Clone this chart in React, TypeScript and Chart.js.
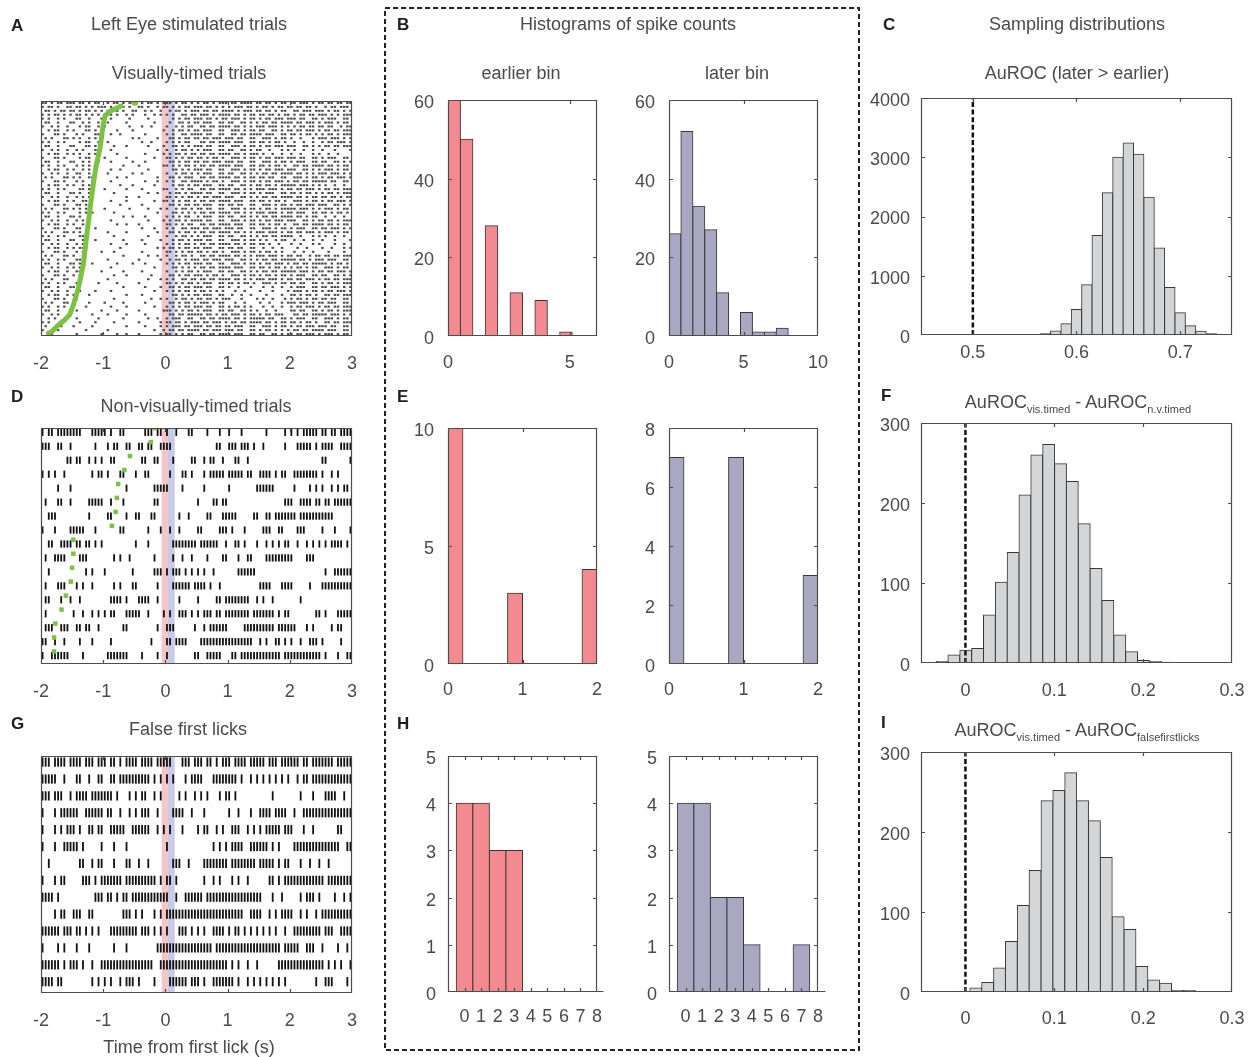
import React, { useEffect, useRef } from 'react';
import { Chart, registerables } from 'chart.js';

Chart.register(...registerables);

const FONT = '"Liberation Sans", Arial, Helvetica, sans-serif';
const INK = '#4a4a4a';
const RED = '#f38a90';
const LAV = '#a9a7c1';
const GRAY = '#d4d5d7';
const EDGE = '#383838';
const GREEN = '#7cc242';
const BAND_RED = '#f7c4c9';
const BAND_BLUE = '#c8cae6';
const FS = 18;

Chart.defaults.font.family = FONT;

// ---------------- raster data ----------------
const rasterTimeStart = -2;
const rasterBinWidth = 0.05;
const rasterTicks = [-2, -1, 0, 1, 2, 3];
const earlierWindow = [-0.06, 0.04];
const laterWindow = [0.04, 0.15];

// Panel A: 60 trial rows, 100 bins of 50 ms ('|' = spike)
const rasterA = [
  '||.|.||.|| |.||.|.||. .|.||.|.|| |.|.||.|.| ||.|.||.|. |.||.|.||| .||.||||.| |.||.|.||. ||.|||.|.| |.||.||.||',
  '|.||.|..|| .||.|.|.|| |.|..||.|. .||.|..|.| |.|.|.||.| ||.||.|.|. |.|||.||.| .||.|.||.| |.||.||.|. .|.||.|||.',
  '.||.|.||.| |.|.||.|.| .|.||.|..| |..|.|..|. .|.||.|.|| |.||.||.|| ||.|.|||.| |.||.|.||. .||.|||.|| |.|.||.|.|',
  '|.|.||.|.| .||.|.|.|. |.|.|..|.| ...|..|.|. |.|..||.|| .|||.|.||| |.||.|.||. ||.||.|.|| .|.||.||.| ||.|.|.|||',
  '|.|..|.|.. .||..|...| ..|.....|. ....|..... ..|.|.||.| ||.||.|.|| .|||.|.||. |.||.|||.| ||.||..||. |.|||..||.',
  '.||..|...| |..|.|..|. .|.....|.. ......|... .|..||.|.| |.|||..||. ||..||.|.| .||.||.||| |.||.|||.| .|||.|.||.',
  '|..|.|..|. ..|.||..|. |.......|. ..|..|.... |..|.|.||. .||.||.||| |.||.|.|.| ||.|||.|.| .|.||.||.| |.||..|.||',
  '..|.||..|. |...||.|.. ....|....| .........| ..|.||.|.| |.|||..||. .|||.|.||. ||..||.|.| |.||.|||.| .||.||.|||',
  '|...||.|.. .|.|...||. ..|..|.... ...|...... |.|..||.|| ||.||..||. .||.||.||| |.|||..||. ||.|.||.|. |.||.|.|||',
  '.|.|...||. |.|..|.|.. .........| .|.....|.. .||.|.||.| |.||.|||.| ||.||..||. .|||.|.||. |..|...|.| ||.|||.|.|',
  '|.|..|.|.. ..|.||..|. .|........ ..|..|.... |.|.|.||.. .||.||.||| |.|||..||. ||.|.||.|. .|..|..|.. |.||.|||.|',
  '.||..|...| |...||.|.. ...|...|.. ....|....| ..||.|.|.| ||.||..||. .|||.|.||. |.||.|||.| ||..||.|.| .||.||.|||',
  '|..|.|..|. .|.|...||. ..|....... .......|.. |..|.||.|. |.|||..||. ||..||.|.| |..|...|.| .|..|..|.. |...|....|',
  '..|.||..|. |.|..|.|.. ....|..... ...|.....| .|.||.|.|| .||.||.||| |.||.|.||| .|..|..|.. |..|...|.| ..|..|....',
  '|...||.|.. ..|.||..|. |......|.. ......|... ||.|.|.||. ||.|.||.|. .|||.|.||. |.||.|||.| ||.||..||. |.|||..||.',
  '.||..|...| |..|.|..|. ..|......| ...|...... .||.|.||.| |.||.|||.| ||.||..||. .|||.|.||. |.|||..||. ||..||.|.|',
  '|.|..|.|.. .|.|.|.... ......|... .|.......| |.|.|.||.| .||.||.||| |.|||..||. ||.|.||.|. .||.||.||| |.||.|.||.',
  '..|.||..|. |..|.|.... ..|..|.... ....|..... ..||.|.|.| ||.||..||. .|||.|.||. |.||.|||.| ||..||.|.| .|||.|.||.',
  '|..|.|..|. .||..|.... .|.......| ..|....... |..|.||.|. |.|||..||. ||..||.|.| .||.||.||| |.||.|.|.| ||.|||.|.|',
  '.|.|...||. |.|..||... ....|..|.. .......|.. .||.|.|||. .||.||.||| |.||.|.||. ||.||..||. .|||.|.||. |.||.|||.|',
  '|...||.|.. .|.|..|... ..|....... ...|...|.. |.|..||.|| ||.|.||.|. .|||.|.||. |.||.|||.| .||.||.||| ||.||..||.',
  '..|.||..|. |..|.|.... .....|...| ......|... ..|.||.|.| |.|||..||. ||..||.|.| |.||.|.||| ||.|||.|.| .|..|..|..',
  '|.|..|.|.. ..||.|.... |......|.. ..|......| |..|.|.||. .||.||.||| |.||.|.|.| ||.|||.|.| |.||.|||.| .||.||.|||',
  '.||..|...| |.|..|.... ...|...... ....|..|.. .|.||.|.|| ||.||..||. .|||.|.||. |.|||..||. ||.|.||.|. |.||.|.|||',
  '|..|.|..|. .|.|.|.... .......|.. .|........ ||.|.|.||. |.||.|||.| ||..||.|.| .||.||.||| |.||.|.||. ||.||.|.||',
  '..|.||..|. |..||..... ..|....|.. ......|..| |.|.|.||.| .||.||.||| |.|||..||. ||.|.||.|. .|||.|.||. |.||.|||.|',
  '|...||.|.. .||.|..... .....|.... ..|....... .||.|.||.| |.|||..||. ||.||..||. .|||.|.||. |.||.|||.| ||..||.|.|',
  '.|.|...||. |.|.|..... |.......|. ....|...|. |..|.||.|. ||.||..||. .|||.|.||. |.||.|.||| ||.|||.|.| .|||.|.||.',
  '|.|..|.|.. ..|.|.|... ...|...... .......|.. ..||.|.|.| .||.||.||| |.||.|.|.| ||.|||.|.| |.|||..||. ||.|.||.|.',
  '.||..|...| |.|..|.... ......|..| ...|...... |.|.|.||.. |.|||..||. ||..||.|.| .||.||.||| |.||.|.||. .|..|..|..',
  '|..|.|..|. .|.|...... ..|....... ....|....| .|.||.|.|| ||.||..||. .|||.|.||. |.||.|||.| ||..||.|.| |.||.|.|||',
  '..|.||..|. |..|...... ....|..|.. .|........ ||.|.|.||. .||.||.||| |.|||..||. ||.|.||.|. .||.||.||| |.||.|.||.',
  '|...||.|.. .||....|.. .......... ..|...|... |.|..||.|| |.||.|||.| ||.||..||. .|||.|.||. |.|||..||. ||.|||.|.|',
  '.|.|...||. |.|.|..... .|.....|.. .......|.. .||.|.||.| .||.||.||| |.||.|.|.| ||.|||.|.| |.||.|||.| .|||.|.||.',
  '|.|..|.|.. ..||...... ...|...... ....|..... |..|.||.|. |.|||..||. ||..||.|.| .||.||.||| |..|...|.| .|..|..|..',
  '.||..|...| |..|...|.. ......|... ..|.....|. ..|.||.|.| ||.||..||. .|||.|.||. |.|..|.||. .|..|..|.. |...|....|',
  '|..|.|..|. .|.|...... ..|....|.. ...|...... |.|.|.||.| .||.||.||| |.||.|.||. ||.|..|... |..|...|.| ....|..|..',
  '..|.||..|. |.||...... .....|.... .......|.| .||.|.||.| |.|||..||. ||.||..||. .|..|..|.. ..|..|.... |..|...|.|',
  '|...||.|.. .|.|.....| ...|...... ..|....... ||.|.|.||. ||.|.||.|. .|||.|.||. |.||.|.|.. .|..|..|.. ..|....|..',
  '.|.|...||. |..|...... ......|... ....|..|.. |..|.||.|. .||.||.||| |.||.|.|.| ||.|||.|.| |.||..|.|| .||.||.|||',
  '|.|..|.|.. .||....... .|........ .|......|. .|.||.|.|| |.||.|||.| ||..||.|.| .||.||.||| ||.||.|.|| |.|||..||.',
  '.||..|...| |.|...|... ....|....| ...|...... |.|.|.||.| ||.||..||. .|||.|.||. |.||.|||.| .||.||.||| ||.|.||.|.',
  '|..|.|..|. |.|....... ..|....... ......|... ..||.|.|.| .||.||.||| |.|||..||. ||.|.||.|. |.||.|.||. .|||.|.||.',
  '..|.||..|. .||......| ......|... ..|....... |..|.|.||. |.|||..||. ||..||.|.| .||.||.||| ||.|||.|.| |.||.|||.|',
  '|...||.|.. |.|....... ...|...|.. .....|.... .||.|.||.| ||.|.||.|. .|||.|.||. |.||.|.||. |.|||..||. ||..||.|.|',
  '.|.|...||. ..|....... .|........ ....|...|. |.|..||.|| .||.||.||| |.||.|.|.| ||.|||.|.| |.||.|||.| .||.||.|||',
  '|.|..|.|.. .|......|. ....|..... .|........ ||.|.|.||. |.|||..||. ||.|.||.|. .|||.|.||. ||.||..||. |.||.|.|||',
  '.||..|...| |......... ......|... ...|....|. .||.|.||.| ||.||..||. |..|...|.. .|..|..|.. |.|||..||. ||.|||.|.|',
  '|..|.|..|. ..|....|.. ..|....... ......|... |.|.|.||.| .||.|.|.|. ..|..|.... |...|....| .|||.|.||. |.||.|||.|',
  '..|.||..|. |....|.... .......|.. ..|....... ..||.|.|.| |.|||..||. .|..|..|.. ..|....|.. ||.|.||.|. .||.||.|||',
  '|...||.|.. .|........ ...|...... .....|..|. |..|.||.|. ||.||.|.|| |...|....| .|..|...|. |.||.|.||. ||.||..||.',
  '.|.|...||. .....|.... |.....|... ...|...... .||.|.||.| .|||.|.||. ..|..|.... |..|...|.| ||.|||.|.| |.|||..||.',
  '|.|..|.|.. ....|..... ..|....|.. ......|... |.|.|.||.| ||.||..||. |.||.|.|.. .|..|..|.. |.||.|||.| .||.||.|||',
  '.||..|.... .|.......| ....|..... .|.......| ||.|.|.||. |.|||..||. ||..||.|.| ..|..|.... ||.||..||. |.||.|.|||',
  '|..|.|.... ......|... .|.....|.. ...|...... .||.||.||| ||.||.|.|| .|||.|.||. |.||.|||.. .||.||.||| ||.|||.|.|',
  '..|.|..... .|......|. ......|... ....|..|.. |.|||..||. .||.||.||| |.||.|.||| ||.||..||. |.|||..||. .|||.|.||.',
  '|.|....... ..|....|.. ...|...... .|......|. ||.||.|.|| |.||.|||.| .||.||.||| |.||.|.||. ||.|.||.|. .||.||.|||',
  '.|....|... |.....|... .......|.. ...|....|. |.|||.||.| ||.||.||.| |.|||..||. .|||.|.||. |.||.|||.| ||.||..||.',
  '|....|.... ....|..... .|........ ......|..| .||.||.||| |.||.|||.| ||.||..||. |.||.|.|.| .||.||.||| |.|||..||.',
  '...|...... .|.......| ....|..|.. .|......|. ||.|.|.||. .||.||.||| |.|||..||. ||..||.|.| |.||.|||.| .|||.|.||.',
];
// green curve in panel A (time of cue, trial row)
const greenATimes = [-0.71, -0.89, -0.97, -1.0, -1.05, -1.11, -1.16, -1.21, -1.27, -1.32, -1.4, -1.48, -1.54, -1.62, -1.72, -1.83, -1.88];
const greenARows = [1.3, 2.6, 3.8, 6.0, 12.0, 16.2, 21.3, 27.3, 35.0, 41.8, 47.8, 52.1, 54.6, 55.9, 57.2, 58.9, 59.3];
const greenATopTime = -0.49;
const greenATopRow = 0.3;

// Panel D: 17 trials
const rasterD = [
  '|.||.||||| |||...|||| |.|..||... ...|||.||. |..|...||. ...|...|.. |...|..... ..|.....|. |.|.|||||. ||.||.||||',
  '|||..||..| .......|.. .|.||..||. .||.||..|| ||........ ......||.. |||.|||.|. .|......|. ..|||||.|. ||||..||||',
  '........|| .||..|.|.| ..||...... ..||..||.. ..|.....|| ..|.||..|. ..||..|... .......... .......... ||.......|',
  '|.|.|..|.. ......|.|| .|...||... |..||..... .|...||.|. ..|.|||||. |||||.||.. ||||.|.||. .||||||||. |..|.|....',
  '.....|...| .......... .......|.. ......|||| |....|.... ..|....... |........| |||||..... .|....|.|. |..|.|.||.',
  '.|...||..| .....||||| ..|...|... ......||.. .......... |....||.|| .......... ........|| |..||||.|| .||.||||||',
  '..|||..... .....|.... .||....|.. ||...||... ....|..|.. ...||...|| |||.....|| ..||.||||| ||.||||||| ||||......',
  '|...|....| ||||...|.. .....||... ....|...|. .|..|..... ||.....||| .|...|.... .|||..||.. ..|||..... |...|....|',
  '..||..|||| .||.||.|.| .......... |...|..... ..|||||||| .||||||..| ..||.|...| ..|.|.|.|| ..|..|.|.| .|.||||.|.',
  '.|..||||.. ..|||..... ...|.|..|. ......|... ..|..|..|. ...|....|| ...|..||.. ..|||||||| |....|||.. ..........',
  '..|....... ....|.|... |........| ......|||. |.|||.|.|. |.|..|.... ...||||||. .......... .......... .|..||||||',
  '.|...|||.. .|.|..|... ...|.|...| |......|.. ..||||||.| |||.|..|.. .......... ||||...||| |.....|... ||||||||||',
  '.||...|..| ..|....... ..||||.|.. .||||..|.. ....|..... |.....||.| |||||||..| .|..|..... ...|...... ..........',
  '.|........ |..|..|.|. |.||...||| ||..|....| .|..|||.|. |.|||.||.| |||||||.|| |||||.|.|| ........|| .|...|||||',
  '.|||..|||. .||.||..|. ......||.. .......|.. |||......| ..|.|||||| .....||||| |||||.|||| ||...|.|.. ...|.||...',
  '||..|..|.. ..|...|... ..|....... .....|.... ||.||||... .||||||||| ||||||||.. |.|..||.|. |..|..|||. |.....|...',
  '|..||||||. ...|...... .|||||||.. ..|....|.. |........| |..|||||.. .||.|||||| |||||||.|| |||||||||| .|...|..||',
];
const greenD = [-0.17, -0.235, -0.57, -0.66, -0.76, -0.78, -0.8, -0.86, -1.48, -1.48, -1.5, -1.52, -1.6, -1.67, -1.77, -1.79, -1.79];

// Panel G: 14 trials
const rasterG = [
  '|||.||||.| |||.|||.|| |.||.|.||| |.||||.||| ||...|||.| ||.||.|.|| |.||||.||| ||.|||.||| |||.||.||| ||||.|||||',
  '|||||..|.. .||..|..|| ..||.||||| |||||.|.|. |.|...|.|| ||...||||| |||.|..|.| .|.|.|.|.| ..|.||.||| ||||||||||',
  '|||.|||..| .||||.|||| |||.|...|. |.||..|.|. ....|.|..| .|.|...|.| |.|....... ....|..... ...|...|.. .||||..|..',
  '|...|.|||| ||..|||||| .||..|..|. |.|||..|.. ..||||..|. ..|....... |..|...|.. ||||.||||. .|..|||||| ||||||||||',
  '|...|.|.|| |.|..||.|| ..|||||..| |||||..|.| .|...|.... |.||..|.|. .|||..|.|. |.|||||.|| |...|..|.. .....||...',
  '|...|..||| ||.|.....| ...|...|.. .......... |......... .....|.|.| .||||..||| |||.|.|... .||||||||| ||||||..||',
  '..|....... ..||..|.|| ...|...||. .|..|..... ..|||..|.. ..|||||||| .||||||||. |||||.|.|| ...|..|..| ..|.......',
  '|...|.||.. ...|||.|.| ||||||.||| |||||||.|. ||.|...... ..|..|.|.. .|.|..|... ...||.|.|| |||||||||| |.||||||||',
  '||||.|.... .......||| .||.|.||.| |||||||||| |..|..|||| ||.||||||| |||||||||| |...|..|.. ...|.|||.| ....|..|.|',
  '....|.||.. |||..||... ......|||. |.|...|.|. |||||||||| |||||||||| |||||..||| |..|.|.||| |..|.|..|. ||||||||||',
  '||||||.||| .||.|.|.|. ..|||||||| |.|||.|.|. |...|||.|. |.|..||||. |.||.|.|.| .|.|.|..|. .||||||||| .|||..||||',
  '|....|.|.. .|...|.... ...|...|.. .......||| |||||||||| |||||.|||| |||||||||| |||||||.|| |||..|||.. |....|..|.',
  '||||||.|.| ||.|..|..| |||||||||| ||||||..|| |||||||||| |||||||||| .|.|..|..| ......|||| |||||||||| |.|.|.|..|',
  '||||.||... ......|.|. |.|..|.||| .|....|... .||||||.|| |.|..||||| ||.|..|.|. |.|.|.|.|. ........|. .|||....|.',
];

// ---------------- histogram data ----------------
const bEarlyCenters = [0.255, 0.765, 1.275, 1.785, 2.295, 2.805, 3.315, 3.825, 4.335, 4.845];
const bEarlyCounts = [60, 50, 0, 28, 0, 11, 0, 9, 0, 1];
const bLateCenters = [0.4, 1.2, 2.0, 2.8, 3.6, 4.4, 5.2, 6.0, 6.8, 7.6];
const bLateCounts = [26, 52, 33, 27, 11, 0, 6, 1, 1, 2];

const eCenters = [0.1, 0.3, 0.5, 0.7, 0.9, 1.1, 1.3, 1.5, 1.7, 1.9];
const eEarlyCounts = [10, 0, 0, 0, 3, 0, 0, 0, 0, 4];
const eLateCounts = [7, 0, 0, 0, 7, 0, 0, 0, 0, 3];

const hCenters = [0, 1, 2, 3, 4, 5, 6, 7, 8];
const hEarlyCounts = [4, 4, 3, 3, 0, 0, 0, 0, 0];
const hLateCounts = [4, 4, 2, 2, 1, 0, 0, 1, 0];

const cCenters = [0.55, 0.56, 0.57, 0.58, 0.59, 0.6, 0.61, 0.62, 0.63, 0.64, 0.65, 0.66, 0.67, 0.68, 0.69, 0.7, 0.71, 0.72, 0.73, 0.74];
const cCounts = [3, 5, 20, 67, 190, 430, 850, 1680, 2400, 3000, 3240, 3050, 2325, 1470, 800, 375, 155, 65, 20, 5];
const cChance = 0.5;

const fCenters = [-0.0263, -0.013, 0.0004, 0.0137, 0.027, 0.0404, 0.0537, 0.067, 0.0803, 0.0937, 0.107, 0.1203, 0.1337, 0.147, 0.1603, 0.1737, 0.187, 0.2003, 0.2137, 0.227];
const fCounts = [2, 10, 16, 18, 60, 101, 138, 210, 260, 273, 249, 227, 174, 118, 78, 35, 14, 3, 2, 1];
const iCenters = [-0.0017, 0.0117, 0.025, 0.0384, 0.0517, 0.0651, 0.0784, 0.0918, 0.1051, 0.1185, 0.1318, 0.1452, 0.1585, 0.1719, 0.1852, 0.1986, 0.2119, 0.2253, 0.2386, 0.252];
const iCounts = [1, 5, 12, 30, 63, 108, 152, 239, 252, 274, 239, 214, 168, 94, 78, 32, 15, 11, 2, 2];
const diffChance = 0;

// ---------------- helpers ----------------
const fmt = (v: number) => String(Math.round(v * 1000) / 1000);

const framePlugin = {
  id: 'frame',
  beforeDatasetsDraw(chart: any, _a: any, opts: any) {
    const { ctx, chartArea: ca } = chart;
    const xs = chart.scales.x;
    (opts.bands || []).forEach((b: any) => {
      const x0 = xs.getPixelForValue(b.from);
      const x1 = xs.getPixelForValue(b.to);
      ctx.save();
      ctx.fillStyle = b.color;
      ctx.fillRect(x0, ca.top, x1 - x0, ca.bottom - ca.top);
      ctx.restore();
    });
  },
  afterDatasetsDraw(chart: any, _a: any, opts: any) {
    const { ctx, chartArea: ca } = chart;
    const L = Math.round(ca.left) + 0.5;
    const R = Math.round(ca.right) - 0.5;
    const T = Math.round(ca.top) + 0.5;
    const B = Math.round(ca.bottom) - 0.5;
    ctx.save();
    ctx.strokeStyle = '#4d4d4d';
    ctx.lineWidth = 1.2;
    ctx.beginPath();
    ctx.rect(L, T, R - L, B - T);
    ctx.stroke();
    const tl = 3.5;
    ctx.beginPath();
    const xs = chart.scales.x;
    xs.ticks.forEach((t: any) => {
      const p = Math.round(xs.getPixelForValue(t.value)) + 0.5;
      if (p <= L + 1 || p >= R - 1) return;
      ctx.moveTo(p, B);
      ctx.lineTo(p, B - tl);
      ctx.moveTo(p, T);
      ctx.lineTo(p, T + tl);
    });
    if (opts.yTicks !== false) {
      const ys = chart.scales.y;
      ys.ticks.forEach((t: any) => {
        const p = Math.round(ys.getPixelForValue(t.value)) + 0.5;
        if (p <= T + 1 || p >= B - 1) return;
        ctx.moveTo(L, p);
        ctx.lineTo(L + tl, p);
        ctx.moveTo(R, p);
        ctx.lineTo(R - tl, p);
      });
    }
    ctx.stroke();
    if (opts.extendBase) {
      ctx.beginPath();
      ctx.moveTo(L, B);
      ctx.lineTo(R + opts.extendBase, B);
      ctx.stroke();
    }
    ctx.restore();
  },
};

type Pad = { l: number; t: number; r: number; b: number };
type Box = { l: number; t: number; w: number; h: number };

const PAD_HIST: Pad = { l: 62, t: 34, r: 36, b: 48 };
const PAD_RASTER: Pad = { l: 36, t: 34, r: 36, b: 48 };

function xAxis(min: number, max: number, ticks: number[], height: number, pad: number) {
  return {
    type: 'linear',
    position: 'bottom',
    min,
    max,
    offset: false,
    grid: { display: false, drawTicks: false },
    border: { display: false },
    ticks: {
      padding: pad,
      color: INK,
      font: { family: FONT, size: FS },
      maxRotation: 0,
      minRotation: 0,
      autoSkip: false,
      callback: (v: any) => fmt(Number(v)),
    },
    afterBuildTicks: (s: any) => {
      s.ticks = ticks.map((value) => ({ value }));
    },
    afterFit: (s: any) => {
      s.height = height;
    },
  };
}

function yAxis(max: number, ticks: number[], width: number, pad: number) {
  return {
    type: 'linear',
    position: 'left',
    min: 0,
    max,
    grid: { display: false, drawTicks: false },
    border: { display: false },
    ticks: {
      padding: pad,
      labelOffset: 3,
      color: INK,
      font: { family: FONT, size: FS },
      autoSkip: false,
      callback: (v: any) => fmt(Number(v)),
    },
    afterBuildTicks: (s: any) => {
      s.ticks = ticks.map((value) => ({ value }));
    },
    afterFit: (s: any) => {
      s.width = width;
    },
  };
}

function commonOptions(pad: Pad, leftPad: number, frame: any) {
  return {
    responsive: false,
    maintainAspectRatio: false,
    animation: false,
    devicePixelRatio: 1,
    events: [],
    layout: { padding: { left: leftPad, top: pad.t, right: pad.r, bottom: 0 } },
    plugins: { legend: { display: false }, tooltip: { enabled: false }, frame },
  };
}

type HistSpec = {
  centers: number[];
  counts: number[];
  color: string;
  xMin: number;
  xMax: number;
  xTicks: number[];
  yMax: number;
  yTicks: number[];
  xPad: number;
  yPad: number;
  chance?: number;
  extendBase?: number;
};

function histogram(p: HistSpec) {
  return (pad: Pad) => {
    const datasets: any[] = [];
    if (p.chance !== undefined) {
      datasets.push({
        type: 'line',
        data: [
          { x: p.chance, y: 0 },
          { x: p.chance, y: p.yMax },
        ],
        borderColor: '#111',
        borderWidth: 2.5,
        borderDash: [5, 2.6],
        pointRadius: 0,
        order: 0,
      });
    }
    datasets.push({
      type: 'bar',
      data: p.centers.map((x, i) => ({ x, y: p.counts[i] })),
      backgroundColor: p.color,
      borderColor: EDGE,
      borderWidth: 1,
      borderSkipped: false,
      barPercentage: 1,
      categoryPercentage: 1,
      inflateAmount: 0.5,
      order: 1,
    });
    return {
      type: 'bar',
      data: { datasets },
      options: {
        ...commonOptions(pad, 0, { extendBase: p.extendBase }),
        scales: {
          x: xAxis(p.xMin, p.xMax, p.xTicks, pad.b, p.xPad),
          y: yAxis(p.yMax, p.yTicks, pad.l, p.yPad),
        },
      },
    };
  };
}

function spikesFromRows(rows: string[], rowOffset: number) {
  const pts: { x: number; y: number }[] = [];
  rows.forEach((row, i) => {
    const s = row.replace(/ /g, '');
    for (let k = 0; k < s.length; k++) {
      if (s[k] === '|') pts.push({ x: rasterTimeStart + rasterBinWidth * (k + 0.5), y: i + rowOffset });
    }
  });
  return pts;
}

type RasterSpec = {
  greenSets: any[];
  spikes: { x: number; y: number }[];
  yMin: number;
  yMax: number;
  tickR: number;
  tickW: number;
  tickRot: number;
  tickColor: string;
};

function raster(p: RasterSpec) {
  return (pad: Pad) => ({
    type: 'scatter',
    data: {
      datasets: [
        ...p.greenSets,
        {
          data: p.spikes,
          showLine: false,
          pointStyle: 'line',
          pointRotation: p.tickRot,
          pointRadius: p.tickR,
          pointBorderWidth: p.tickW,
          pointBorderColor: p.tickColor,
          pointBackgroundColor: p.tickColor,
          order: 5,
        },
      ],
    },
    options: {
      ...commonOptions(pad, pad.l, {
        yTicks: false,
        bands: [
          { from: earlierWindow[0], to: earlierWindow[1], color: BAND_RED },
          { from: laterWindow[0], to: laterWindow[1], color: BAND_BLUE },
        ],
      }),
      scales: {
        x: xAxis(rasterTicks[0], rasterTicks[rasterTicks.length - 1], rasterTicks, pad.b, 17),
        y: { type: 'linear', display: false, min: p.yMin, max: p.yMax, reverse: true },
      },
    },
  });
}

function Panel({ box, pad, make }: { box: Box; pad: Pad; make: (pad: Pad) => any }) {
  const ref = useRef<HTMLCanvasElement>(null);
  const w = box.w + pad.l + pad.r;
  const h = box.h + pad.t + pad.b;
  useEffect(() => {
    const cfg = make(pad);
    cfg.plugins = [framePlugin];
    const chart = new Chart(ref.current as HTMLCanvasElement, cfg);
    return () => chart.destroy();
  }, []);
  return (
    <canvas
      ref={ref}
      width={w}
      height={h}
      style={{ position: 'absolute', left: box.l - pad.l, top: box.t - pad.t, width: w, height: h }}
    />
  );
}

function Txt({ x, y, children, size = FS, bold = false, align = 'center' }: any) {
  return (
    <div
      style={{
        position: 'absolute',
        left: x,
        top: y - size / 2,
        lineHeight: `${size}px`,
        fontSize: size,
        fontFamily: FONT,
        fontWeight: bold ? 700 : 400,
        color: bold ? '#1e1e1e' : INK,
        whiteSpace: 'nowrap',
        transform: align === 'center' ? 'translateX(-50%)' : undefined,
      }}
    >
      {children}
    </div>
  );
}

const subStyle = { fontSize: 11, verticalAlign: '-5px', lineHeight: 0 } as const;

// ---------------- chart specs ----------------
const panelA = raster({
  greenSets: [
    {
      type: 'line',
      data: greenATimes.map((x, i) => ({ x, y: greenARows[i] })),
      showLine: true,
      borderColor: GREEN,
      borderWidth: 5,
      borderCapStyle: 'round',
      borderJoinStyle: 'round',
      pointRadius: 0,
      order: 0,
    },
    {
      data: [{ x: greenATopTime, y: greenATopRow }],
      pointStyle: 'circle',
      pointRadius: 3.5,
      pointBackgroundColor: GREEN,
      pointBorderWidth: 0,
      order: 0,
    },
  ],
  spikes: spikesFromRows(rasterA, 0.5),
  yMin: 0,
  yMax: rasterA.length,
  tickR: 1.25,
  tickW: 2,
  tickRot: 0,
  tickColor: '#4a4a4a',
});

const panelD = raster({
  greenSets: [
    {
      data: greenD.map((x, i) => ({ x, y: i + 1 - 0.3 })),
      pointStyle: 'rect',
      pointRadius: 3.2,
      pointBackgroundColor: GREEN,
      pointBorderWidth: 0,
      order: 0,
    },
  ],
  spikes: spikesFromRows(rasterD, 1),
  yMin: 0.69,
  yMax: 17.6,
  tickR: 3.6,
  tickW: 1.8,
  tickRot: 90,
  tickColor: '#111',
});

const panelG = raster({
  greenSets: [],
  spikes: spikesFromRows(rasterG, 1),
  yMin: 0.64,
  yMax: 14.67,
  tickR: 4.6,
  tickW: 1.8,
  tickRot: 90,
  tickColor: '#111',
});

const panelBL = histogram({ centers: bEarlyCenters, counts: bEarlyCounts, color: RED, xMin: 0, xMax: 6.12, xTicks: [0, 5], yMax: 60, yTicks: [0, 20, 40, 60], xPad: 16, yPad: 14 });
const panelBR = histogram({ centers: bLateCenters, counts: bLateCounts, color: LAV, xMin: 0, xMax: 10, xTicks: [0, 5, 10], yMax: 60, yTicks: [0, 20, 40, 60], xPad: 16, yPad: 14 });
const panelEL = histogram({ centers: eCenters, counts: eEarlyCounts, color: RED, xMin: 0, xMax: 2, xTicks: [0, 1, 2], yMax: 10, yTicks: [0, 5, 10], xPad: 15, yPad: 14 });
const panelER = histogram({ centers: eCenters, counts: eLateCounts, color: LAV, xMin: 0, xMax: 2, xTicks: [0, 1, 2], yMax: 8, yTicks: [0, 2, 4, 6, 8], xPad: 15, yPad: 14 });
const panelHL = histogram({ centers: hCenters, counts: hEarlyCounts, color: RED, xMin: -1, xMax: 8, xTicks: [0, 1, 2, 3, 4, 5, 6, 7, 8], yMax: 5, yTicks: [0, 1, 2, 3, 4, 5], xPad: 14, yPad: 12, extendBase: 7 });
const panelHR = histogram({ centers: hCenters, counts: hLateCounts, color: LAV, xMin: -1, xMax: 8, xTicks: [0, 1, 2, 3, 4, 5, 6, 7, 8], yMax: 5, yTicks: [0, 1, 2, 3, 4, 5], xPad: 14, yPad: 12, extendBase: 8 });
const panelC = histogram({ centers: cCenters, counts: cCounts, color: GRAY, xMin: 0.45, xMax: 0.75, xTicks: [0.5, 0.6, 0.7], yMax: 4000, yTicks: [0, 1000, 2000, 3000, 4000], xPad: 7, yPad: 11, chance: cChance });
const panelF = histogram({ centers: fCenters, counts: fCounts, color: GRAY, xMin: -0.05, xMax: 0.3, xTicks: [0, 0.1, 0.2, 0.3], yMax: 300, yTicks: [0, 100, 200, 300], xPad: 17, yPad: 11, chance: diffChance });
const panelI = histogram({ centers: iCenters, counts: iCounts, color: GRAY, xMin: -0.05, xMax: 0.3, xTicks: [0, 0.1, 0.2, 0.3], yMax: 300, yTicks: [0, 100, 200, 300], xPad: 16, yPad: 11, chance: diffChance });

export default function App() {
  return (
    <div style={{ position: 'absolute', left: 0, top: 0, width: 1250, height: 1057, overflow: 'hidden', background: '#fff' }}>
      <Panel box={{ l: 41, t: 101, w: 311, h: 235 }} pad={PAD_RASTER} make={panelA} />
      <Panel box={{ l: 41, t: 428, w: 311, h: 236 }} pad={PAD_RASTER} make={panelD} />
      <Panel box={{ l: 41, t: 756, w: 311, h: 237 }} pad={PAD_RASTER} make={panelG} />

      <Panel box={{ l: 448, t: 100, w: 149, h: 236 }} pad={PAD_HIST} make={panelBL} />
      <Panel box={{ l: 669, t: 100, w: 149, h: 236 }} pad={PAD_HIST} make={panelBR} />
      <Panel box={{ l: 448, t: 428, w: 149, h: 236 }} pad={PAD_HIST} make={panelEL} />
      <Panel box={{ l: 669, t: 428, w: 149, h: 236 }} pad={PAD_HIST} make={panelER} />
      <Panel box={{ l: 448, t: 756, w: 149, h: 236 }} pad={PAD_HIST} make={panelHL} />
      <Panel box={{ l: 669, t: 756, w: 149, h: 236 }} pad={PAD_HIST} make={panelHR} />

      <Panel box={{ l: 921, t: 98, w: 311, h: 237 }} pad={PAD_HIST} make={panelC} />
      <Panel box={{ l: 921, t: 423, w: 311, h: 240 }} pad={PAD_HIST} make={panelF} />
      <Panel box={{ l: 921, t: 752, w: 311, h: 240 }} pad={PAD_HIST} make={panelI} />

      <svg width={1250} height={1057} style={{ position: 'absolute', left: 0, top: 0, pointerEvents: 'none' }}>
        <rect x={385} y={8} width={474} height={1042} fill="none" stroke="#222" strokeWidth={2} strokeDasharray="5 3" />
      </svg>

      <Txt x={11} y={25} bold size={17} align="left">A</Txt>
      <Txt x={397} y={24} bold size={17} align="left">B</Txt>
      <Txt x={883} y={24} bold size={17} align="left">C</Txt>
      <Txt x={11} y={396} bold size={17} align="left">D</Txt>
      <Txt x={397} y={396} bold size={17} align="left">E</Txt>
      <Txt x={881} y={395} bold size={17} align="left">F</Txt>
      <Txt x={11} y={723} bold size={17} align="left">G</Txt>
      <Txt x={397} y={723} bold size={17} align="left">H</Txt>
      <Txt x={881} y={722} bold size={17} align="left">I</Txt>

      <Txt x={189} y={24}>Left Eye stimulated trials</Txt>
      <Txt x={628} y={24}>Histograms of spike counts</Txt>
      <Txt x={1077} y={24}>Sampling distributions</Txt>
      <Txt x={189} y={73}>Visually-timed trials</Txt>
      <Txt x={521} y={73}>earlier bin</Txt>
      <Txt x={737} y={73}>later bin</Txt>
      <Txt x={1077} y={73}>AuROC (later &gt; earlier)</Txt>
      <Txt x={196} y={406}>Non-visually-timed trials</Txt>
      <Txt x={1078} y={402}>
        AuROC<span style={subStyle}>vis.timed</span> - AuROC<span style={subStyle}>n.v.timed</span>
      </Txt>
      <Txt x={188} y={729}>False first licks</Txt>
      <Txt x={1077} y={730}>
        AuROC<span style={subStyle}>vis.timed</span> - AuROC<span style={subStyle}>falsefirstlicks</span>
      </Txt>
      <Txt x={189} y={1047}>Time from first lick (s)</Txt>
    </div>
  );
}
